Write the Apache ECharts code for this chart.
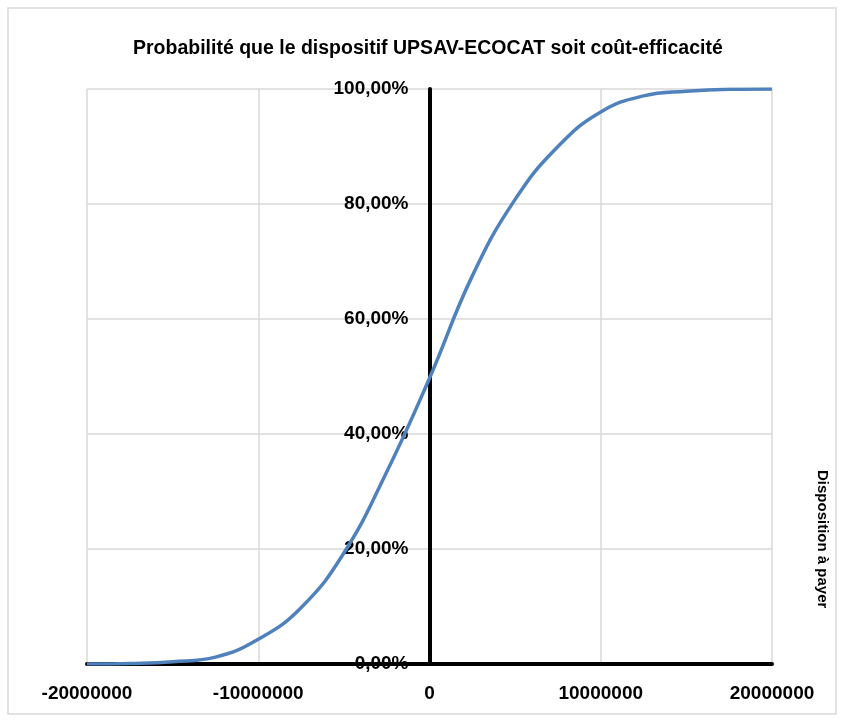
<!DOCTYPE html>
<html><head><meta charset="utf-8">
<script src="https://cdn.jsdelivr.net/npm/echarts@6/dist/echarts.min.js"></script>
<style>html,body{margin:0;padding:0;background:#fff}#c{width:843px;height:721px}</style>
</head><body><div id="c"></div>
<script>
const titleText = 'Probabilité que le dispositif UPSAV-ECOCAT soit coût-efficacité';
const xName = 'Disposition à payer';
const wtp = [-20000000,-17500000,-15000000,-12500000,-10000000,-7500000,-5000000,-2500000,0,2500000,5000000,7500000,10000000,12500000,15000000,17500000,20000000];
const prob = [0.000,0.001,0.004,0.012,0.043,0.098,0.193,0.334,0.497,0.675,0.808,0.900,0.960,0.988,0.996,0.9995,1.000];

const FONT = "'Liberation Sans',Arial,sans-serif";
const chart = echarts.init(document.getElementById('c'));
chart.setOption({
  animation:false,
  title:{text:titleText,left:128,top:34,textStyle:{fontFamily:FONT,fontWeight:'bold',fontSize:19.5,color:'#000'}},
  grid:{left:87,right:71,top:89,bottom:57,containLabel:false,outerBoundsMode:'none'},
  graphic:[
    {type:'rect',shape:{x:8,y:8,width:828,height:706},style:{fill:'none',stroke:'#d9d9d9',lineWidth:1.5},silent:true},
    {type:'text',left:815,top:470,rotation:-Math.PI/2,style:{text:xName,fontFamily:FONT,fontWeight:'bold',fontSize:15,fill:'#000'}}
  ],
  xAxis:{type:'value',min:-20000000,max:20000000,interval:10000000,
    axisLine:{show:true,onZero:true,lineStyle:{color:'#000',width:4}},
    axisTick:{show:false},
    splitLine:{show:true,lineStyle:{color:'#d9d9d9',width:1.5}},
    axisLabel:{margin:20,fontFamily:FONT,fontWeight:'bold',fontSize:19,color:'#000',formatter:v=>String(v)}},
  yAxis:{type:'value',min:0,max:1,interval:0.2,position:'left',offset:-342.5,
    axisLine:{show:true,onZero:false,lineStyle:{color:'#000',width:4}},
    axisTick:{show:false},
    splitLine:{show:true,lineStyle:{color:'#d9d9d9',width:1.5}},
    axisLabel:{margin:21,fontFamily:FONT,fontWeight:'bold',fontSize:19,color:'#000',
      formatter:v=>(v*100).toFixed(2).replace('.',',')+'%'}},
  series:[{type:'line',data:wtp.map((x,i)=>[x,prob[i]]),smooth:0.45,showSymbol:false,
    lineStyle:{color:'#4f81bd',width:3.5},z:1}]
});
</script></body></html>
